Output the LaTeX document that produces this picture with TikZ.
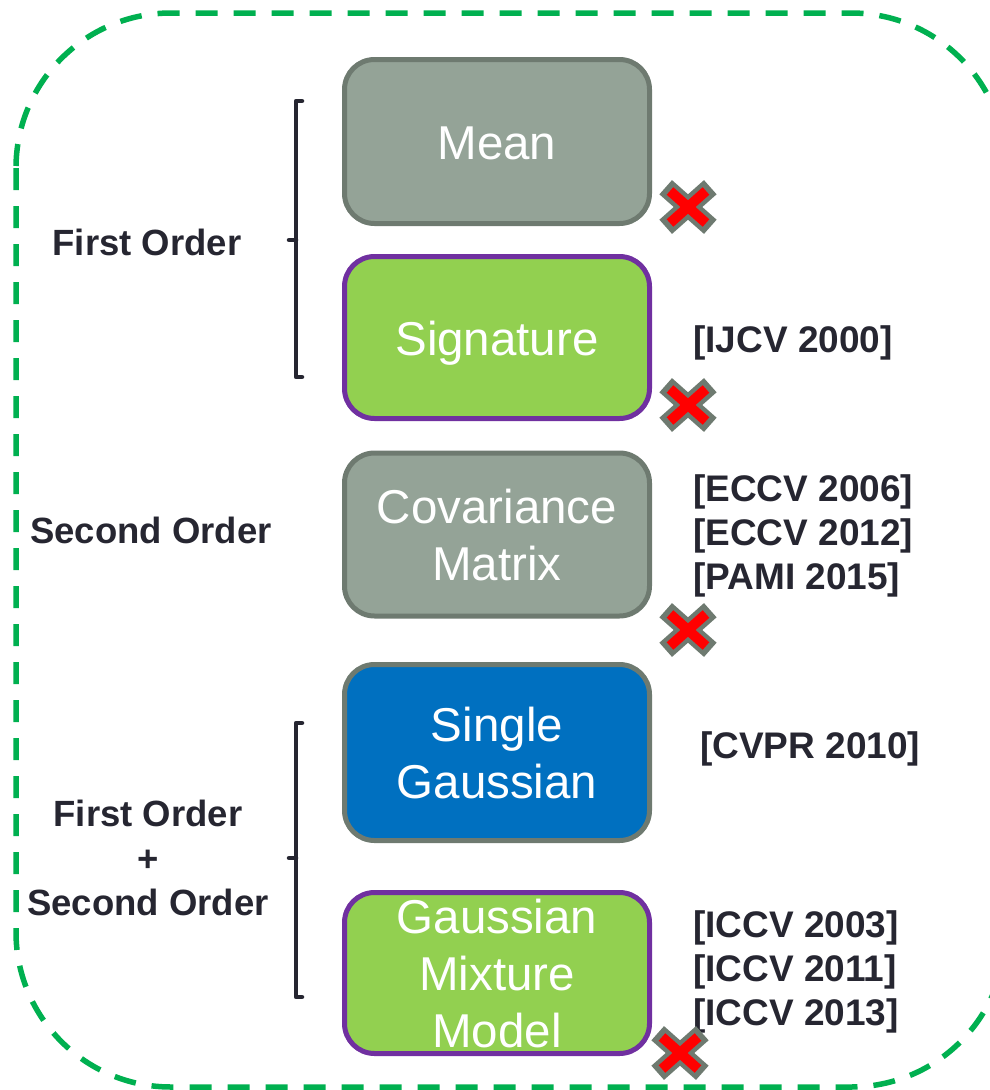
\documentclass[tikz,border=0pt]{standalone}
\usepackage{fontspec}
\setmainfont{Liberation Sans}
\definecolor{boxgray}{HTML}{94A397}
\definecolor{edgegray}{HTML}{6E7A70}
\definecolor{boxgreen}{HTML}{92D050}
\definecolor{boxpurple}{HTML}{7030A0}
\definecolor{boxblue}{HTML}{0070C0}
\definecolor{frame}{HTML}{00B050}
\definecolor{ink}{HTML}{262631}
\definecolor{xred}{HTML}{FF0000}
\tikzset{
  box/.style={rounded corners=30pt, minimum width=305pt, minimum height=164pt, line width=5pt,
    text=white, font=\fontsize{47.5}{57}\selectfont, align=center, inner sep=0pt},
  oneline/.style={text height=35pt, text depth=0pt},
  multiline/.style={text depth=-6pt},
  graybox/.style={box, fill=boxgray, draw=edgegray},
  greenbox/.style={box, fill=boxgreen, draw=boxpurple},
  bluebox/.style={box, fill=boxblue, draw=edgegray},
  lbl/.style={text=ink, font=\bfseries\fontsize{36.5}{44.5}\selectfont, inner sep=0pt},
  cite/.style={lbl, font=\bfseries\fontsize{37}{44.3}\selectfont, anchor=west, align=left},
  bracketline/.style={draw=ink, line width=4.5pt, line cap=round, line join=round},
  crossmark/.pic={
    \draw[edgegray, line width=19pt] (-22.3,-19.8) -- (22.3,19.8) (-22.3,19.8) -- (22.3,-19.8);
    \draw[xred, line width=10pt] (-18,-16) -- (18,16) (-18,16) -- (18,-16);
  }
}
\begin{document}
\begin{tikzpicture}[x=1pt,y=-1pt]
\useasboundingbox (0,0) rectangle (990,1090);
\clip (0,0) rectangle (990,1090);
\draw[frame, line width=5.5pt, dash pattern=on 22pt off 16pt, rounded corners=155pt] (16,13) rectangle (1006,1087);

\node[graybox, oneline] (mean) at (497,141.5) {Mean};
\node[greenbox, oneline, minimum height=162pt] (sig) at (497,337.5) {Signature};
\node[graybox, multiline, minimum height=163pt] (cov) at (497,534.5) {Covariance\\Matrix};
\node[bluebox, multiline, minimum height=176pt] (sg) at (497,752.5) {Single\\Gaussian};
\node[greenbox, multiline, minimum height=161pt] (gmm) at (497,973) {Gaussian\\Mixture\\Model};

\node[lbl] (fo) at (147,242) {First Order};
\node[lbl] (so) at (151,530) {Second Order};
\node[lbl, align=center] (fso) at (148,858) {First Order\\+\\Second Order};

\node[cite] (c1) at (693,343) {[IJCV 2000]};
\node[cite] (c2) at (693,536) {{[ECCV 2006]}\\{[ECCV 2012]}\\{[PAMI 2015]}};
\node[cite] (c3) at (700,749) {[CVPR 2010]};
\node[cite] (c4) at (693,972) {{[ICCV 2003]}\\{[ICCV 2011]}\\{[ICCV 2013]}};

\coordinate (b1t) at (296,101);
\coordinate (b1b) at (296,377);
\coordinate (b1m) at (296,240);
\draw[bracketline] ([xshift=6pt]b1t) -- (b1t) -- (b1b) -- ([xshift=6pt]b1b);
\draw[bracketline] (b1m) -- ([xshift=-7pt]b1m);
\coordinate (b2t) at (296,723);
\coordinate (b2b) at (296,997);
\coordinate (b2m) at (296,858);
\draw[bracketline] ([xshift=6pt]b2t) -- (b2t) -- (b2b) -- ([xshift=6pt]b2b);
\draw[bracketline] (b2m) -- ([xshift=-7pt]b2m);

\pic at (688,207) {crossmark};
\pic at (688,405) {crossmark};
\pic at (688,630) {crossmark};
\pic at (680,1053) {crossmark};
\end{tikzpicture}
\end{document}
